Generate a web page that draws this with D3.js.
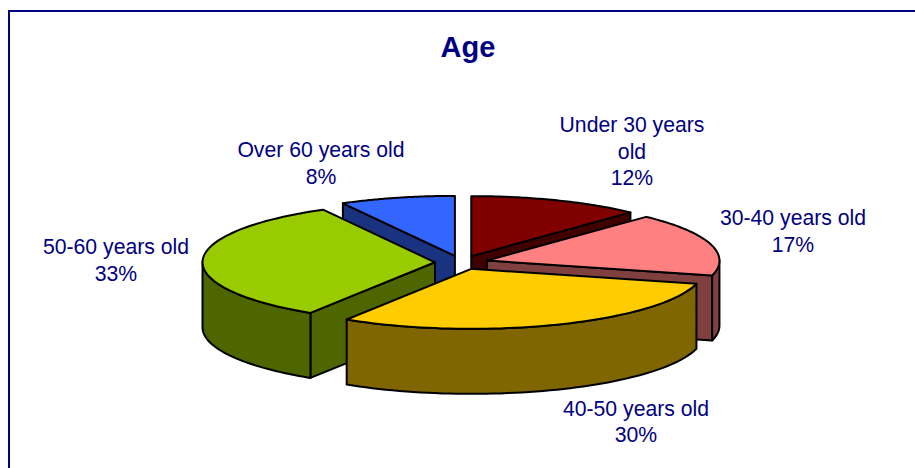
<!DOCTYPE html>
<html>
<head>
<meta charset="utf-8">
<script src="https://d3js.org/d3.v7.min.js"></script>
<style>
  html, body { margin: 0; padding: 0; background: #fff; overflow: hidden; }
  svg { display: block; }
  text { font-family: "Liberation Sans", Arial, sans-serif; fill: #000080; }
</style>
</head>
<body>
<div id="chart"></div>
<script>
// Chart data
const categories = ['Under 30 years old', '30-40 years old', '40-50 years old', '50-60 years old', 'Over 60 years old'];
const shares = [12, 17, 30, 33, 8];
const topColors = ['#800000', '#FF8080', '#FFCC00', '#99CC00', '#3366FF'];
const sideColors = ['#400000', '#804040', '#806600', '#4D6600', '#1A3380'];

// Wrapped label lines, the way the chart breaks them
const labelLines = [
  ['Under 30 years', 'old'],
  ['30-40 years old'],
  ['40-50 years old'],
  ['50-60 years old'],
  ['Over 60 years old']
];

// Label anchor: centre x, first baseline y
const labelPos = [[632, 132], [793, 225], [636, 415.5], [116, 254], [321, 157]];

const width = 915;
const height = 468;

// Pie geometry (tilted ellipse, extruded downwards)
const cx = 461.5;
const cy = 262.5;
const rx = 232.5;
const ry = 60;
const depth = 65;
const explode = 0.114;

const svg = d3.select('#chart')
  .append('svg')
  .attr('width', width)
  .attr('height', height);

// Frame runs off the right and bottom of the picture
svg.append('path')
  .attr('d', d3.line()([[9, height + 5], [9, 11], [width + 5, 11]]))
  .attr('fill', 'none')
  .attr('stroke', '#000080')
  .attr('stroke-width', 2);

svg.append('text')
  .attr('x', 468)
  .attr('y', 57)
  .attr('text-anchor', 'middle')
  .attr('font-size', 29)
  .attr('font-weight', 'bold')
  .text('Age');

const pie = d3.pie().sort(null).value(d => d.share);
const slices = pie(categories.map((name, i) => ({ name, share: shares[i], i })));

// Angle is clockwise from 12 o'clock
const onRim = (a, ox, oy, dy = 0) => [ox + rx * Math.sin(a), oy - ry * Math.cos(a) + dy];

const rim = (a0, a1, ox, oy, dy = 0) =>
  d3.range(0, 61).map(k => onRim(a0 + (a1 - a0) * k / 60, ox, oy, dy));

const line = d3.line();

// Back slices first so the front ones paint over them
const order = slices.slice().sort((a, b) =>
  Math.cos((b.startAngle + b.endAngle) / 2) - Math.cos((a.startAngle + a.endAngle) / 2));

const pieGroup = svg.append('g')
  .attr('stroke', '#000')
  .attr('stroke-width', 2)
  .attr('stroke-linejoin', 'round');

order.forEach(s => {
  const mid = (s.startAngle + s.endAngle) / 2;
  const ox = cx + explode * rx * Math.sin(mid);
  const oy = cy - explode * ry * Math.cos(mid);
  const side = sideColors[s.data.i];
  const g = pieGroup.append('g');

  const radialWall = a => {
    const p = onRim(a, ox, oy);
    g.append('path')
      .attr('d', line([[ox, oy], p, [p[0], p[1] + depth], [ox, oy + depth]]) + 'Z')
      .attr('fill', side);
  };

  // Only the cut faces turned towards the viewer are drawn
  if (Math.sin(s.startAngle) < -1e-6) radialWall(s.startAngle);
  if (Math.sin(s.endAngle) > 1e-6) radialWall(s.endAngle);

  // Outer wall, front half of the ellipse only
  const a0 = Math.max(s.startAngle, Math.PI / 2);
  const a1 = Math.min(s.endAngle, Math.PI * 1.5);
  if (a1 > a0) {
    const pts = rim(a0, a1, ox, oy).concat(rim(a1, a0, ox, oy, depth));
    g.append('path')
      .attr('d', line(pts) + 'Z')
      .attr('fill', side);
  }

  // Top face
  g.append('path')
    .attr('d', line([[ox, oy]].concat(rim(s.startAngle, s.endAngle, ox, oy))) + 'Z')
    .attr('fill', topColors[s.data.i]);
});

// Labels
const labels = svg.append('g')
  .attr('font-size', 21.2)
  .attr('text-anchor', 'middle');

slices.forEach(s => {
  const i = s.data.i;
  const lines = labelLines[i].concat([shares[i] + '%']);
  lines.forEach((t, k) => {
    labels.append('text')
      .attr('x', labelPos[i][0])
      .attr('y', labelPos[i][1] + k * 26.7)
      .text(t);
  });
});
</script>
</body>
</html>
